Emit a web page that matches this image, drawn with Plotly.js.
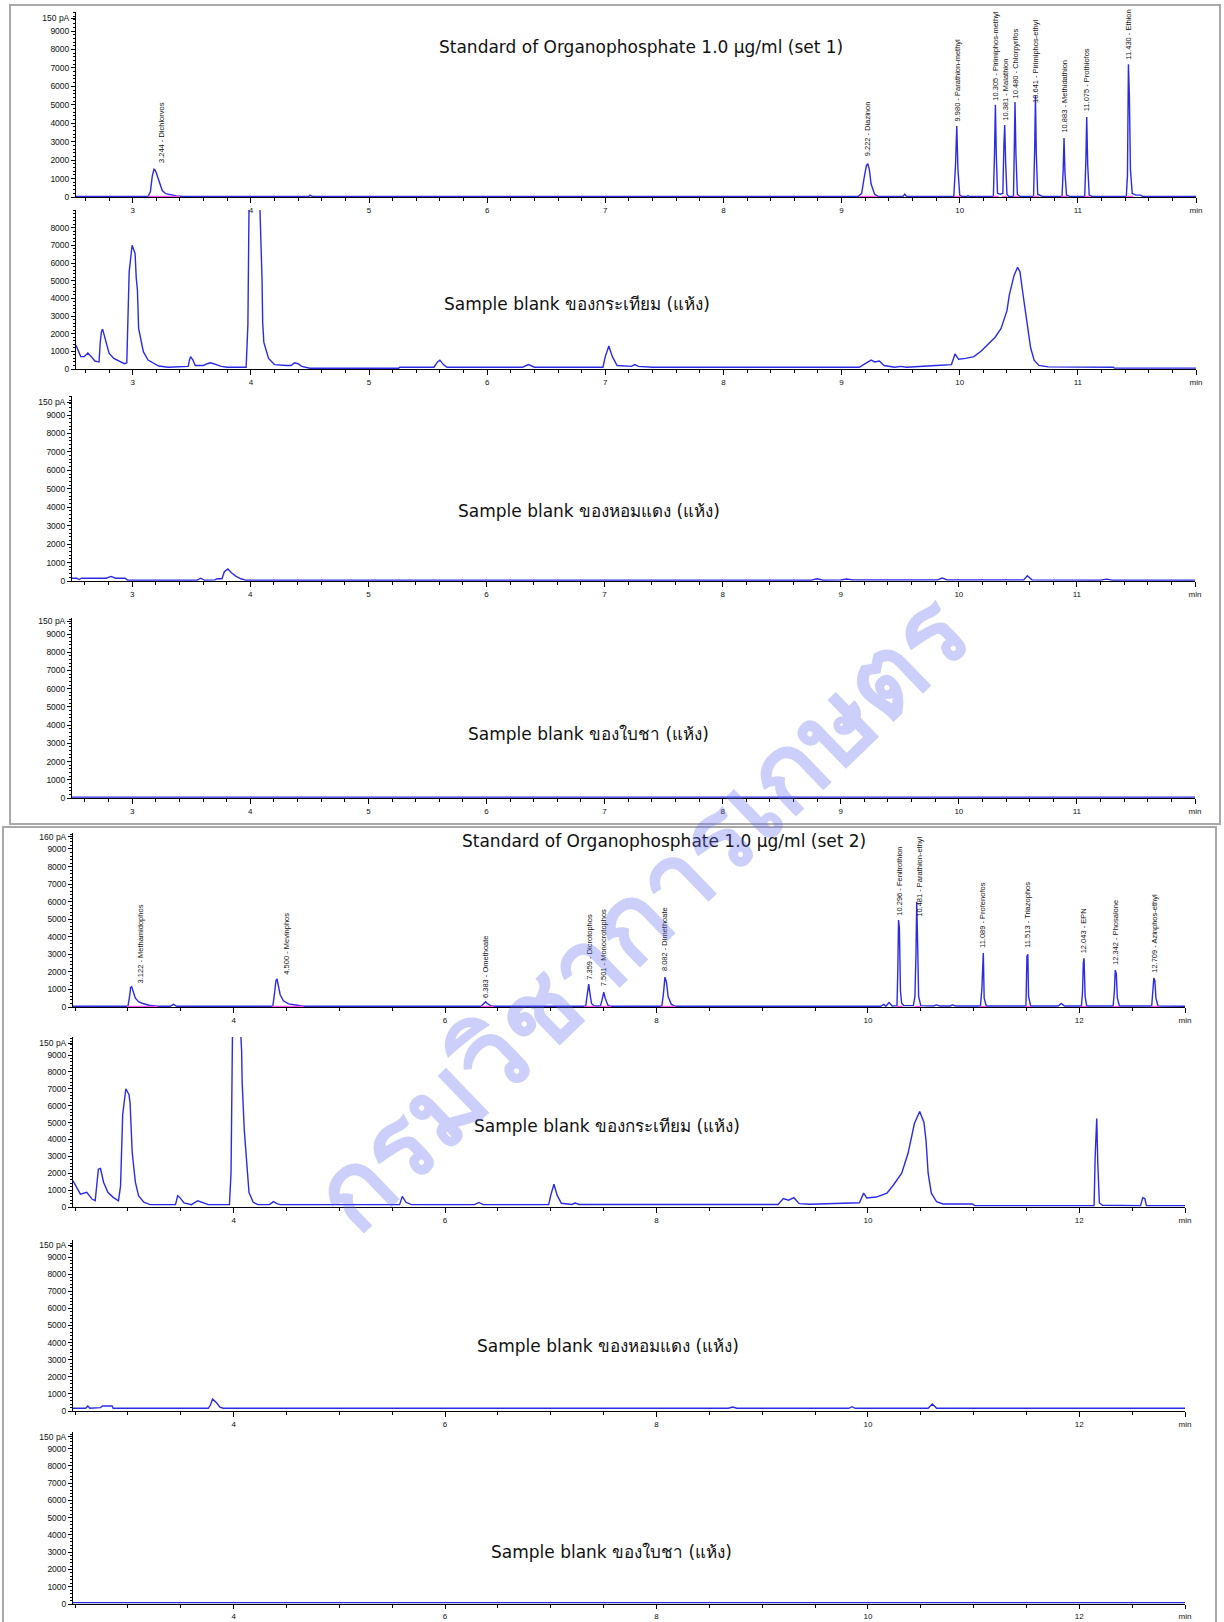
<!DOCTYPE html>
<html><head><meta charset="utf-8">
<script src="https://cdn.plot.ly/plotly-3.0.1.min.js"></script>
<style>html,body{margin:0;padding:0;background:#fff}</style>
</head><body><div id="chart" style="width:1224px;height:1622px"></div>
<script>
// ---------------- DATA ----------------
const set1TickVals = [3,4,5,6,7,8,9,10,11,12];
const set1TickText = ['3','4','5','6','7','8','9','10','11','min'];
const set2TickVals = [4,6,8,10,12,13];
const set2TickText = ['4','6','8','10','12','min'];
const yTickVals = [0,1000,2000,3000,4000,5000,6000,7000,8000,9000];
const yTickText = ['0','1000','2000','3000','4000','5000','6000','7000','8000','9000'];

// Standard set 1 : [time (min), signal]
const std1Signal = [[2.52,30],[3.13,30],[3.15,300],[3.165,1100],[3.18,1500],[3.19,1450],[3.20,1300],[3.215,1000],[3.23,650],[3.25,350],[3.28,180],[3.32,120],[3.37,60],[3.42,30],[4.49,30],[4.50,100],[4.52,30],[9.14,30],[9.17,200],[9.19,1000],[9.21,1700],[9.222,1800],[9.235,1500],[9.25,700],[9.28,150],[9.31,30],[9.52,30],[9.535,150],[9.55,30],[9.95,30],[9.965,1800],[9.975,3850],[9.985,1500],[10.0,100],[10.02,30],[10.06,30],[10.07,80],[10.08,30],[10.285,30],[10.295,2500],[10.302,5000],[10.31,2200],[10.32,200],[10.345,150],[10.365,200],[10.374,2800],[10.381,3900],[10.389,1800],[10.40,150],[10.415,30],[10.455,30],[10.462,2600],[10.468,5150],[10.476,2300],[10.488,150],[10.51,30],[10.625,30],[10.635,2700],[10.641,5500],[10.648,2400],[10.66,150],[10.70,30],[10.866,30],[10.876,1500],[10.883,3200],[10.891,1300],[10.904,100],[10.93,30],[11.058,30],[11.068,2000],[11.075,4340],[11.083,1800],[11.096,100],[11.12,30],[11.41,30],[11.42,1200],[11.428,7200],[11.436,5500],[11.445,1500],[11.46,200],[11.49,100],[11.53,100],[11.55,30],[12.0,30]];
const garlic1Signal = [[2.52,1350],[2.56,700],[2.59,700],[2.62,900],[2.65,700],[2.68,450],[2.70,420],[2.715,400],[2.725,1500],[2.735,2100],[2.745,2260],[2.76,1900],[2.775,1500],[2.80,900],[2.84,600],[2.88,450],[2.93,300],[2.95,350],[2.96,2900],[2.97,5500],[2.995,7000],[3.02,6550],[3.03,5140],[3.04,4460],[3.05,2300],[3.09,980],[3.13,510],[3.22,170],[3.30,100],[3.40,150],[3.47,150],[3.48,500],[3.49,700],[3.51,500],[3.53,200],[3.60,200],[3.63,300],[3.66,350],[3.70,250],[3.75,150],[3.80,100],[3.96,100],[3.975,2500],[3.985,9500],[4.075,9500],[4.085,7700],[4.095,5000],[4.10,2650],[4.11,1500],[4.15,600],[4.20,250],[4.30,200],[4.34,200],[4.37,350],[4.40,300],[4.43,150],[4.50,40],[5.25,40],[5.26,100],[5.55,100],[5.58,400],[5.60,500],[5.63,250],[5.66,100],[6.30,100],[6.35,250],[6.40,100],[6.98,100],[7.00,700],[7.03,1300],[7.06,700],[7.10,200],[7.22,150],[7.25,250],[7.28,150],[7.40,100],[9.15,100],[9.20,300],[9.25,500],[9.28,400],[9.32,450],[9.36,200],[9.45,100],[9.50,150],[9.55,100],[9.80,200],[9.93,250],[9.96,850],[9.99,550],[10.05,600],[10.12,700],[10.18,1000],[10.23,1350],[10.30,1800],[10.35,2300],[10.40,3300],[10.42,4200],[10.46,5300],[10.49,5760],[10.51,5500],[10.53,4500],[10.55,3600],[10.58,2000],[10.60,1200],[10.63,500],[10.67,200],[10.75,120],[11.30,100],[11.31,50],[12.0,50]];
const shallot1Signal = [[2.49,150],[2.53,150],[2.55,80],[2.57,150],[2.78,150],[2.82,250],[2.86,150],[2.94,150],[2.96,50],[3.55,50],[3.58,150],[3.61,50],[3.70,60],[3.72,120],[3.76,120],[3.78,500],[3.81,650],[3.84,450],[3.88,250],[3.92,120],[3.96,50],[4.5,50],[8.75,50],[8.8,120],[8.85,50],[9.0,60],[9.05,110],[9.1,60],[9.82,60],[9.86,160],[9.9,60],[10.55,60],[10.58,280],[10.62,60],[11.2,50],[11.25,100],[11.3,50],[12.0,50]];
const tea1Signal = [[2.49,50],[7.0,50],[12.0,50]];

// Standard set 2
const std2Signal = [[2.48,40],[3.00,40],[3.015,600],[3.025,1100],[3.035,1150],[3.05,900],[3.07,500],[3.10,300],[3.14,200],[3.20,100],[3.28,40],[3.40,40],[3.43,150],[3.46,40],[4.37,40],[4.385,700],[4.40,1500],[4.41,1600],[4.425,1200],[4.44,700],[4.47,350],[4.52,180],[4.60,100],[4.66,40],[6.34,40],[6.37,250],[6.383,300],[6.40,200],[6.43,80],[6.46,40],[7.33,40],[7.345,700],[7.359,1300],[7.37,800],[7.385,200],[7.41,60],[7.47,60],[7.487,450],[7.501,850],[7.515,500],[7.54,100],[7.57,40],[8.05,40],[8.065,700],[8.08,1700],[8.095,1400],[8.11,600],[8.14,150],[8.18,40],[10.12,40],[10.15,150],[10.17,40],[10.20,250],[10.23,60],[10.275,80],[10.283,2000],[10.29,4950],[10.298,4500],[10.308,900],[10.32,200],[10.34,80],[10.43,80],[10.445,600],[10.455,3000],[10.462,6000],[10.47,3800],[10.48,600],[10.50,80],[10.62,60],[10.65,120],[10.68,60],[10.78,60],[10.80,120],[10.83,60],[11.065,60],[11.078,1000],[11.085,3000],[11.092,3070],[11.10,500],[11.12,60],[11.495,60],[11.505,2900],[11.513,3000],[11.52,600],[11.54,60],[11.80,60],[11.83,200],[11.86,60],[12.02,60],[12.03,800],[12.038,2500],[12.045,2780],[12.055,600],[12.07,60],[12.32,60],[12.332,900],[12.34,2100],[12.35,1900],[12.36,500],[12.38,60],[12.685,60],[12.695,1000],[12.705,1650],[12.715,1500],[12.725,500],[12.745,60],[13.0,40]];
const garlic2Signal = [[2.48,1550],[2.55,760],[2.61,870],[2.66,470],[2.69,370],[2.70,1000],[2.72,2240],[2.74,2280],[2.77,1450],[2.81,870],[2.86,570],[2.91,370],[2.93,1250],[2.95,5470],[2.98,7000],[3.01,6650],[3.02,6160],[3.04,3240],[3.07,1470],[3.10,670],[3.15,280],[3.21,140],[3.45,140],[3.47,670],[3.49,570],[3.53,240],[3.60,140],[3.66,370],[3.71,240],[3.76,140],[3.96,140],[3.975,2000],[3.99,11000],[4.06,11000],[4.075,9300],[4.08,7430],[4.10,4590],[4.12,2820],[4.145,860],[4.185,280],[4.23,140],[4.34,140],[4.375,320],[4.415,180],[4.44,140],[5.57,140],[5.595,630],[5.63,280],[5.68,140],[6.28,140],[6.32,270],[6.36,140],[6.98,140],[7.00,700],[7.03,1350],[7.06,700],[7.10,220],[7.20,150],[7.23,230],[7.27,150],[9.15,150],[9.20,500],[9.25,400],[9.30,550],[9.35,200],[9.45,160],[9.55,180],[9.74,250],[9.92,250],[9.96,820],[9.99,530],[10.08,590],[10.18,820],[10.24,1290],[10.32,2000],[10.38,3180],[10.44,4940],[10.49,5650],[10.53,5020],[10.55,3940],[10.57,2000],[10.60,820],[10.65,310],[10.71,180],[10.99,180],[11.01,80],[12.14,80],[12.15,2960],[12.165,5240],[12.175,2590],[12.19,240],[12.22,100],[12.58,80],[12.60,550],[12.62,500],[12.635,80],[13.0,80]];
const shallot2Signal = [[2.48,160],[2.60,160],[2.62,290],[2.64,160],[2.74,200],[2.76,290],[2.85,290],[2.86,160],[3.76,160],[3.78,350],[3.80,700],[3.84,470],[3.87,230],[3.90,160],[8.68,160],[8.72,230],[8.76,160],[9.82,160],[9.85,250],[9.88,160],[10.57,160],[10.61,410],[10.65,160],[13.0,160]];
const tea2Signal = [[2.48,80],[7.5,80],[13.0,80]];

// Peak labels (retention time, compound, label base in pA-axis units)
const std1Times = [3.244,9.222,9.980,10.305,10.381,10.480,10.641,10.883,11.075,11.430];
const std1Names = ['Dichlorvos','Diazinon','Parathion-methyl','Pirimiphos-methyl','Malathion','Chlorpyrifos','Pirimiphos-ethyl','Methidathion','Prothiofos','Ethion'];
const std1LabelBase = [1735,2115,4010,5100,4010,5260,4990,3360,4555,7320];
const std1Integration = [[3.13,3.40],[9.15,9.30],[9.95,10.01],[10.28,10.33],[10.36,10.40],[10.455,10.50],[10.62,10.67],[10.86,10.91],[11.055,11.10],[11.41,11.47]];

const std2Times = [3.122,4.500,6.383,7.359,7.501,8.082,10.296,10.481,11.089,11.513,12.043,12.342,12.709];
const std2Names = ['Methamidophos','Mevinphos','Omethoate','Dicrotophos','Monocrotophos','Dimethoate','Fenitrothion','Parathion-ethyl','Profenofos','Triazophos','EPN','Phosalone','Azinphos-ethyl'];
const std2LabelBase = [1250,1700,400,1420,1080,1940,5070,5010,3250,3250,2960,2280,1820];
const std2Integration = [[2.99,3.28],[4.36,4.66],[6.34,6.46],[7.32,7.42],[7.46,7.57],[8.04,8.18],[10.27,10.33],[10.44,10.50],[11.06,11.12],[11.49,11.54],[12.02,12.07],[12.32,12.38],[12.68,12.75]];

const panelTitles = [
  'Standard of Organophosphate 1.0 µg/ml (set 1)',
  'Sample blank ของกระเทียม (แห้ง)',
  'Sample blank ของหอมแดง (แห้ง)',
  'Sample blank ของใบชา (แห้ง)',
  'Standard of Organophosphate 1.0 µg/ml (set 2)',
  'Sample blank ของกระเทียม (แห้ง)',
  'Sample blank ของหอมแดง (แห้ง)',
  'Sample blank ของใบชา (แห้ง)'
];
const topTickText = ['150 pA', null, '150 pA', '150 pA', '160 pA', '150 pA', '150 pA', '150 pA'];
const watermarkText = 'กรมวิชาการเกษตร';

// ---------------- LAYOUT ----------------
const W = 1224, H = 1622;
const px2x = (a, b) => [a / W, b / W];
const px2y = (top, bottom) => [1 - bottom / H, 1 - top / H];

const panels = [
  {sig: std1Signal,     xd:[76,1196], yd:[12,197],    xr:[2.52,12.0], yr:[0,10030], set:1, title:[641,47]},
  {sig: garlic1Signal,  xd:[76,1196], yd:[210,369],   xr:[2.52,12.0], yr:[0,9000],  set:1, title:[577,304]},
  {sig: shallot1Signal, xd:[72,1195], yd:[396,581],   xr:[2.49,12.0], yr:[0,10030], set:1, title:[589,511]},
  {sig: tea1Signal,     xd:[72,1195], yd:[618,798],   xr:[2.49,12.0], yr:[0,9878],  set:1, title:[588,734]},
  {sig: std2Signal,     xd:[73,1185], yd:[833,1007],  xr:[2.48,13.0], yr:[0,9911],  set:2, title:[664,841]},
  {sig: garlic2Signal,  xd:[73,1185], yd:[1037,1207], xr:[2.48,13.0], yr:[0,10066], set:2, title:[607,1126]},
  {sig: shallot2Signal, xd:[73,1185], yd:[1240,1411], xr:[2.48,13.0], yr:[0,9994],  set:2, title:[608,1346]},
  {sig: tea2Signal,     xd:[73,1185], yd:[1432,1604], xr:[2.48,13.0], yr:[0,9962],  set:2, title:[611,1552]}
];

const traceColor = '#2b2be6';
const tickFont = {family:'Arial, Liberation Sans, sans-serif', size:8, color:'#111'};
const titleFont = {family:'DejaVu Sans, Noto Sans, sans-serif', size:17, color:'#111'};

const traces = [];
const layout = {
  width: W, height: H, margin:{l:0,r:0,t:0,b:0},
  paper_bgcolor:'#fff', plot_bgcolor:'rgba(0,0,0,0)',
  showlegend:false, annotations:[], shapes:[]
};

panels.forEach((p, i) => {
  const n = i === 0 ? '' : String(i + 1);
  traces.push({
    type:'scatter', mode:'lines',
    x: p.sig.map(d => d[0]), y: p.sig.map(d => d[1]),
    xaxis:'x' + n, yaxis:'y' + n,
    line:{color:traceColor, width:1.4}, hoverinfo:'skip'
  });
  const yv = yTickVals.slice(), yt = yTickText.slice();
  if (i === 1) { yv.pop(); yt.pop(); }
  if (topTickText[i]) { yv.push(9700); yt.push(topTickText[i]); }
  layout['xaxis' + n] = {
    domain: px2x(p.xd[0], p.xd[1]), range: p.xr, anchor:'y' + n,
    showline:true, linecolor:'#000', linewidth:1,
    ticks:'outside', ticklen: i === 7 ? 4 : 5, tickwidth:1, tickcolor:'#000',
    tickmode:'array',
    tickvals: p.set === 1 ? set1TickVals : set2TickVals,
    ticktext: p.set === 1 ? set1TickText : set2TickText,
    tickfont: tickFont,
    minor:{tickmode:'linear', tick0:0, dtick: p.set === 1 ? 0.2 : 0.5, ticks:'outside', ticklen:3, tickcolor:'#000', showgrid:false},
    showgrid:false, zeroline:false, fixedrange:true
  };
  layout['yaxis' + n] = {
    domain: px2y(p.yd[0], p.yd[1]), range: p.yr, anchor:'x' + n,
    showline:true, linecolor:'#000', linewidth:1,
    ticks:'outside', ticklen:4, tickwidth:1, tickcolor:'#000',
    tickmode:'array', tickvals: yv, ticktext: yt,
    tickfont: {family:'Arial, Liberation Sans, sans-serif', size:8.5, color:'#111'},
    minor:{tickmode:'linear', tick0:0, dtick:200, ticks:'outside', ticklen:2, tickcolor:'#000', showgrid:false},
    showgrid:false, zeroline:false, fixedrange:true
  };
  layout.annotations.push({
    xref:'paper', yref:'paper', x: p.title[0] / W, y: 1 - p.title[1] / H,
    xanchor:'center', yanchor:'middle', showarrow:false,
    text: panelTitles[i], font: titleFont
  });
});

// integration baselines (pink) and peak labels for the two standards
function addStandard(axisN, intervals, times, names, bases) {
  const xs = [], ys = [];
  intervals.forEach(iv => { xs.push(iv[0], iv[1], null); ys.push(25, 25, null); });
  traces.push({type:'scatter', mode:'lines', x:xs, y:ys, xaxis:'x' + axisN, yaxis:'y' + axisN,
    line:{color:'#ff4dff', width:1.5}, hoverinfo:'skip', connectgaps:false});
  times.forEach((t, k) => {
    layout.annotations.push({
      xref:'x' + axisN, yref:'y' + axisN, x:t, y:bases[k],
      xanchor:'center', yanchor:'bottom', showarrow:false, textangle:-90,
      text: t.toFixed(3) + ' - ' + names[k],
      font:{family:'Arial, Liberation Sans, sans-serif', size:7.5, color:'#111'}
    });
  });
}
addStandard('', std1Integration, std1Times, std1Names, std1LabelBase);
addStandard('5', std2Integration, std2Times, std2Names, std2LabelBase);

// frames around the two sets
layout.shapes.push({type:'rect', xref:'paper', yref:'paper',
  x0:10/W, x1:1220/W, y0:1-824/H, y1:1-5/H, line:{color:'#a9a9a9', width:2}, fillcolor:'rgba(0,0,0,0)'});
layout.shapes.push({type:'rect', xref:'paper', yref:'paper',
  x0:3/W, x1:1216/W, y0:-0.01, y1:1-827/H, line:{color:'#a9a9a9', width:2}, fillcolor:'rgba(0,0,0,0)'});

// watermark
layout.annotations.push({
  xref:'paper', yref:'paper', x:638/W, y:1-910/H, xanchor:'center', yanchor:'middle',
  showarrow:false, textangle:-44, text: watermarkText,
  font:{family:'Noto Sans, DejaVu Sans, sans-serif', size:106, color:'rgba(100,110,238,0.33)', weight:'bold'}
});

Plotly.newPlot('chart', traces, layout, {displayModeBar:false, staticPlot:true});
</script></body></html>
